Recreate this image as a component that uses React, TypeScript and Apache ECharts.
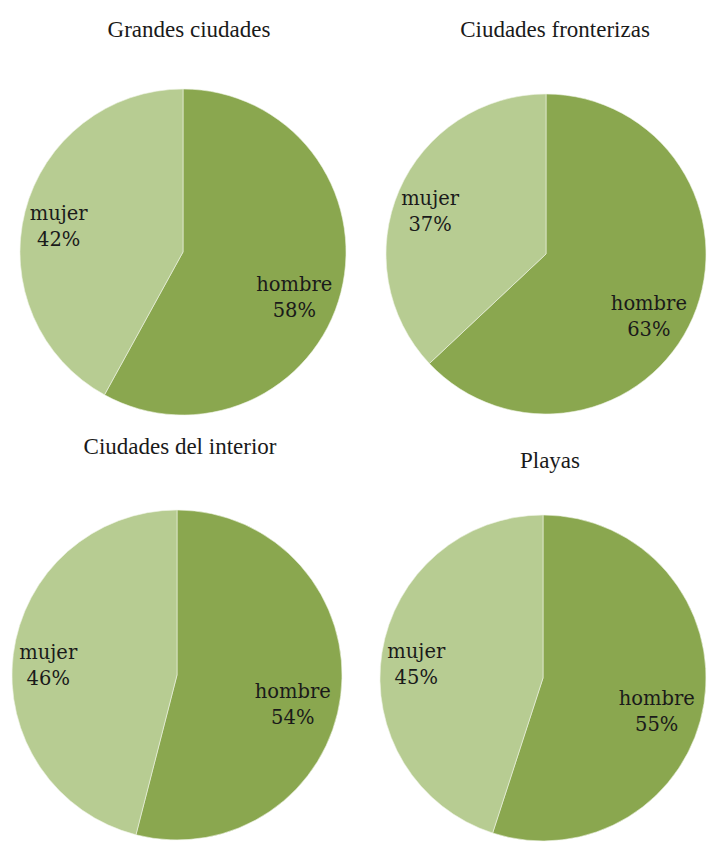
import React, { useEffect, useRef } from "react";
import * as echarts from "echarts";

const titles = ["Grandes ciudades", "Ciudades fronterizas", "Ciudades del interior", "Playas"];
const categories = ["hombre", "mujer"];
const hombreValues = [58, 63, 54, 55];
const mujerValues = [42, 37, 46, 45];

const centers: [number, number][] = [[183, 252], [546, 254], [177, 675], [543, 678]];
const radii = [163, 160, 165, 163];
const titlePos: [number, number][] = [[184, 13], [550, 13], [175, 430], [545, 444]];
const colors = ["#8AA74F", "#B7CC92"];
const labelOffsets: [number, number][] = [[-10, 14], [-3, 6]];

export default function App() {
  const ref = useRef<HTMLDivElement>(null);
  useEffect(() => {
    document.body.style.margin = "0";
    const chart = echarts.init(ref.current!, null, { renderer: "svg" });
    const series: any[] = [];
    titles.forEach((t, i) => {
      const data = categories.map((c, k) => ({
        name: c,
        value: k === 0 ? hombreValues[i] : mujerValues[i],
      }));
      series.push({
        type: "pie",
        center: centers[i],
        radius: [0, radii[i]],
        startAngle: 90,
        clockwise: true,
        silent: true,
        label: { show: false },
        labelLine: { show: false },
        itemStyle: { borderColor: "#eef3e4", borderWidth: 0.6 },
        data: data.map((d, k) => ({ ...d, itemStyle: { color: colors[k] } })),
      });
      series.push({
        type: "pie",
        center: centers[i],
        radius: [0, radii[i] * 1.5],
        startAngle: 90,
        clockwise: true,
        silent: true,
        z: 5,
        itemStyle: { color: "rgba(0,0,0,0)" },
        label: {
          show: true,
          position: "inside",
          formatter: "{b}\n{c}%",
          fontFamily: "DejaVu Serif",
          fontSize: 19.5,
          lineHeight: 26,
          color: "#1a1a1a",
          align: "center",
        },
        labelLine: { show: false },
        data: data.map((d, k) => ({ ...d, label: { offset: labelOffsets[k] } })),
      });
    });
    chart.setOption({
      animation: false,
      backgroundColor: "#ffffff",
      title: titles.map((t, i) => ({
        text: t,
        left: titlePos[i][0],
        top: titlePos[i][1],
        textAlign: "center",
        textStyle: {
          fontFamily: "Liberation Serif",
          fontSize: 23,
          fontWeight: "normal",
          color: "#1a1a1a",
        },
      })),
      series,
    });
    return () => chart.dispose();
  }, []);
  return <div ref={ref} style={{ width: 711, height: 842 }} />;
}
